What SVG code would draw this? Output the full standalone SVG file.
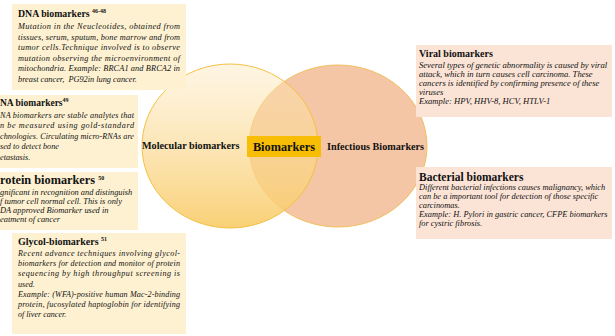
<svg xmlns="http://www.w3.org/2000/svg" width="615" height="336" viewBox="0 0 615 336">
<defs>
<linearGradient id="gL" x1="0" y1="0" x2="0" y2="1">
<stop offset="0" stop-color="#FCE6B8" stop-opacity="0.4"/>
<stop offset="1" stop-color="#F9CC6A" stop-opacity="0.92"/>
</linearGradient>
<style>
.t{font-family:"Liberation Serif","Times New Roman",serif;fill:#111}
.h{font-weight:bold}
.i{font-style:italic}
.by{fill:#FEF1D2}
.bp{fill:#FBE4D6}
.s{font-size:6px}
</style>
</defs>
<rect width="615" height="336" fill="#fff"/>
<g id="venn">
<ellipse id="infectious-circle" cx="338" cy="146" rx="89" ry="81" fill="#F5C6A5" stroke="#F1BF5C" stroke-width="1"/>
<ellipse id="molecular-circle" cx="230" cy="146" rx="88" ry="82" fill="url(#gL)" stroke="#F4C142" stroke-width="1"/>
</g>
<g id="connectors"/>
<g id="molecular-label"><text class="t h" x="142" y="149" font-size="10.2">Molecular biomarkers</text></g>
<g id="infectious-label"><text class="t h" x="327" y="150" font-size="10.2">Infectious Biomarkers</text></g>
<g id="biomarkers">
<rect x="247" y="136" width="74" height="21" fill="#F7BE05"/>
<text class="t h" x="284" y="151" font-size="12.3" text-anchor="middle">Biomarkers</text>
</g>
<g id="dna">
<rect class="by" x="12" y="4" width="174" height="86"/>
<text class="t h" x="18" y="17" font-size="9.8">DNA biomarkers <tspan class="s" dy="-4">46-48</tspan></text>
<g class="t i" font-size="8.3">
<text x="18" y="29" textLength="162">Mutation in the Neucleotides, obtained from</text>
<text x="18" y="39.5" textLength="162">tissues, serum, sputum, bone marrow and from</text>
<text x="18" y="50" textLength="162">tumor cells.Technique involved is to observe</text>
<text x="18" y="60.5" textLength="162">mutation observing the microenvironment of</text>
<text x="18" y="71" textLength="162">mitochondria. Example: BRCA1 and BRCA2 in</text>
<text x="18" y="81.5">breast cancer,&#160; PG92in lung cancer.</text>
</g>
</g>
<g id="rna">
<rect class="by" x="0" y="95" width="138" height="73"/>
<text class="t h" x="0" y="106" font-size="9.5">NA biomarkers<tspan class="s" dy="-4">49</tspan></text>
<g class="t i" font-size="8.2">
<text x="0" y="117.5" textLength="134">NA biomarkers are stable analytes that</text>
<text x="0" y="128" textLength="134">n be measured using gold-standard</text>
<text x="0" y="138.5" textLength="134">chnologies. Circulating micro-RNAs are</text>
<text x="0" y="149">sed to detect bone</text>
<text x="0" y="159.5">etastasis.</text>
</g>
</g>
<g id="protein">
<rect class="by" x="0" y="172" width="138" height="58"/>
<text class="t h" x="0" y="184" font-size="12.3">rotein biomarkers <tspan class="s" dy="-4">50</tspan></text>
<g class="t i" font-size="8.4">
<text x="0" y="194.5">gnificant in recognition and distinguish</text>
<text x="0" y="203.5">f tumor cell normal cell. This is only</text>
<text x="0" y="212.5">DA approved Biomarker used in</text>
<text x="0" y="221.5">eatment of cancer</text>
</g>
</g>
<g id="glycol">
<rect class="by" x="12" y="233" width="174" height="101"/>
<text class="t h" x="18" y="245" font-size="10">Glycol-biomarkers <tspan class="s" dy="-4">51</tspan></text>
<g class="t i" font-size="8.1">
<text x="18" y="256" textLength="162">Recent advance techniques involving glycol-</text>
<text x="18" y="266.2" textLength="162">biomarkers for detection and monitor of protein</text>
<text x="18" y="276.4" textLength="162">sequencing by high throughput screening is</text>
<text x="18" y="286.6">used.</text>
<text x="18" y="296.8" textLength="162">Example: (WFA)-positive human Mac-2-binding</text>
<text x="18" y="307" textLength="162">protein, fucosylated haptoglobin for identifying</text>
<text x="18" y="317.2">of liver cancer.</text>
</g>
</g>
<g id="viral">
<rect class="bp" x="416" y="45" width="196" height="72"/>
<text class="t h" x="419" y="57" font-size="10">Viral biomarkers</text>
<g class="t i" font-size="8.6">
<text x="419" y="67.5">Several types of genetic abnormality is caused by viral</text>
<text x="419" y="76.5">attack, which in turn causes cell carcinoma. These</text>
<text x="419" y="85.5">cancers is identified by confirming presence of these</text>
<text x="419" y="94.5">viruses</text>
<text x="419" y="103.5">Example: HPV, HHV-8, HCV, HTLV-1</text>
</g>
</g>
<g id="bacterial">
<rect class="bp" x="416" y="167" width="196" height="72"/>
<text class="t h" x="419" y="180.5" font-size="11.5">Bacterial biomarkers</text>
<g class="t i" font-size="8.4">
<text x="419" y="190">Different bacterial infections causes malignancy, which</text>
<text x="419" y="199">can be a important tool for detection of those specific</text>
<text x="419" y="208">carcinomas.</text>
<text x="419" y="217">Example: H. Pylori in gastric cancer, CFPE biomarkers</text>
<text x="419" y="226">for cystric fibrosis.</text>
</g>
</g>
</svg>
